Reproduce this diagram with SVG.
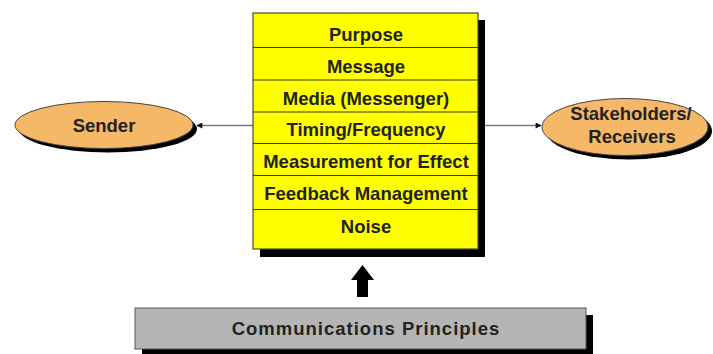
<svg xmlns="http://www.w3.org/2000/svg" width="713" height="354" viewBox="0 0 713 354">
  <defs>
    <style>
      .lbl { font-family: "Liberation Sans", Arial, sans-serif; font-weight: bold; font-size: 18.5px; fill: #222; text-anchor: middle; }
      .shadow { fill: #000; }
      .oval { fill: #f4b866; stroke: #444; stroke-width: 1; }
      .row { fill: #ffff00; stroke: #4a4a2a; stroke-width: 1.2; }
      .link { stroke: #777; stroke-width: 1.5; fill: none; }
    </style>
    <marker id="tip" viewBox="0 0 10 10" refX="9" refY="5" markerWidth="8" markerHeight="6" markerUnits="userSpaceOnUse" orient="auto">
      <path d="M0,0 L10,5 L0,10 z" fill="#111"/>
    </marker>
  </defs>
  <rect width="713" height="354" fill="#fff"/>

  <!-- connectors -->
  <g id="connectors">
    <line class="link" x1="253" y1="125.5" x2="197" y2="125.5" marker-end="url(#tip)"/>
    <line class="link" x1="485" y1="125.5" x2="541" y2="125.5" marker-end="url(#tip)"/>
    <polygon points="351,280 362.5,265 374,280 368,280 368,297 357,297 357,280" fill="#000"/>
  </g>

  <!-- central stack of principles -->
  <g id="principles">
    <rect class="shadow" x="260" y="20" width="225" height="237"/>
    <rect class="row" x="253" y="13" width="225" height="236"/>
    <g stroke="#3a3a20" stroke-width="1.2">
      <line x1="253" y1="47.5" x2="478" y2="47.5"/>
      <line x1="253" y1="80" x2="478" y2="80"/>
      <line x1="253" y1="112" x2="478" y2="112"/>
      <line x1="253" y1="143.5" x2="478" y2="143.5"/>
      <line x1="253" y1="175.5" x2="478" y2="175.5"/>
      <line x1="253" y1="209.5" x2="478" y2="209.5"/>
    </g>
    <text class="lbl" x="366" y="40.5">Purpose</text>
    <text class="lbl" x="366" y="72.5">Message</text>
    <text class="lbl" x="366" y="104.5">Media (Messenger)</text>
    <text class="lbl" x="366" y="135.5">Timing/Frequency</text>
    <text class="lbl" x="366" y="167.5">Measurement for Effect</text>
    <text class="lbl" x="366" y="200">Feedback Management</text>
    <text class="lbl" x="366" y="232.5">Noise</text>
  </g>

  <!-- sender -->
  <g id="sender">
    <ellipse class="shadow" cx="108" cy="129" rx="89" ry="23.5"/>
    <ellipse class="oval" cx="104" cy="125" rx="89" ry="23.5"/>
    <text class="lbl" x="104" y="131.5">Sender</text>
  </g>

  <!-- stakeholders / receivers -->
  <g id="receivers">
    <ellipse class="shadow" cx="629" cy="131" rx="83" ry="28.5"/>
    <ellipse class="oval" cx="625" cy="127" rx="83" ry="28.5"/>
    <text class="lbl" x="631" y="120" font-size="19">Stakeholders/</text>
    <text class="lbl" x="632" y="143" font-size="19">Receivers</text>
  </g>

  <!-- base bar -->
  <g id="foundation">
    <rect class="shadow" x="142" y="315" width="451" height="41"/>
    <rect x="135" y="308" width="451" height="41" fill="#b5b5b5" stroke="#555" stroke-width="1"/>
    <text class="lbl" x="366" y="334.5" letter-spacing="1">Communications Principles</text>
  </g>
</svg>
